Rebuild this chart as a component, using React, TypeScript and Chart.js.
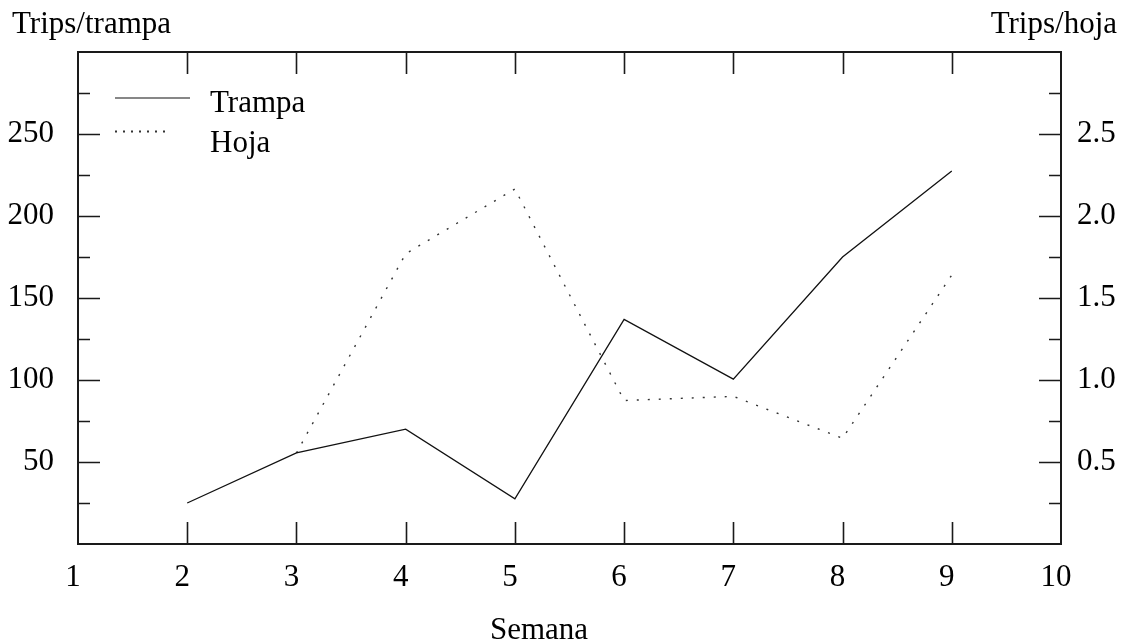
import React, { useEffect, useRef } from "react";
import { Chart, registerables } from "chart.js";

Chart.register(...registerables);

const weeksTrampa = [2, 3, 4, 5, 6, 7, 8, 9];
const trampaValues = [25, 55.5, 70, 27.5, 137, 100.5, 175, 227.5];
const weeksHoja = [3, 4, 5, 6, 7, 8, 9];
const hojaValues = [0.555, 1.77, 2.165, 0.875, 0.9, 0.645, 1.64];

const xTitle = "Semana";
const yLeftTitle = "Trips/trampa";
const yRightTitle = "Trips/hoja";
const seriesNames = ["Trampa", "Hoja"];

const FONT = "'Liberation Serif', 'Times New Roman', serif";
const FS = 31;
const INK = "#1a1a1a";

const framePlugin = {
  id: "framePlugin",
  afterDraw(chart: any) {
    const { ctx, chartArea } = chart;
    const { left, right, top, bottom } = chartArea;
    const x = chart.scales.x;
    const y = chart.scales.y;
    const y1 = chart.scales.y1;
    ctx.save();
    ctx.strokeStyle = INK;
    ctx.lineWidth = 2;
    ctx.strokeRect(left, top, right - left, bottom - top);
    ctx.lineWidth = 1.6;
    ctx.beginPath();
    x.ticks.forEach((t: any) => {
      if (t.value <= x.min || t.value >= x.max) return;
      const px = Math.round(x.getPixelForValue(t.value)) + 0.5;
      ctx.moveTo(px, bottom);
      ctx.lineTo(px, bottom - 22);
      ctx.moveTo(px, top);
      ctx.lineTo(px, top + 22);
    });
    y.ticks.forEach((t: any) => {
      if (t.value <= y.min || t.value >= y.max) return;
      const py = Math.round(y.getPixelForValue(t.value)) + 0.5;
      const len = t.value % 50 === 0 ? 22 : 12;
      ctx.moveTo(left, py);
      ctx.lineTo(left + len, py);
    });
    y1.ticks.forEach((t: any) => {
      if (t.value <= y1.min + 1e-9 || t.value >= y1.max - 1e-9) return;
      const py = Math.round(y1.getPixelForValue(t.value)) + 0.5;
      const major = Math.abs(t.value * 2 - Math.round(t.value * 2)) < 1e-6;
      const len = major ? 22 : 12;
      ctx.moveTo(right, py);
      ctx.lineTo(right - len, py);
    });
    ctx.stroke();

    // axis titles
    ctx.fillStyle = "#000";
    ctx.font = `${FS}px ${FONT}`;
    ctx.textBaseline = "alphabetic";
    ctx.textAlign = "left";
    ctx.fillText(yLeftTitle, 12, 33);
    ctx.textAlign = "right";
    ctx.fillText(yRightTitle, 1117, 33);
    ctx.textAlign = "center";
    ctx.fillText(xTitle, 539, 639);

    // legend inside plot
    const ds = chart.data.datasets;
    const rows = [
      { lineY: 98, textY: 112, x0: 115, x1: 190, dash: [] as number[] },
      { lineY: 131.5, textY: 152, x0: 115, x1: 166, dash: [2, 6] },
    ];
    ds.forEach((d: any, i: number) => {
      const r = rows[i];
      ctx.beginPath();
      ctx.strokeStyle = d.borderColor;
      ctx.lineWidth = i === 0 ? 1.2 : 1.8;
      ctx.setLineDash(r.dash);
      ctx.moveTo(r.x0, r.lineY);
      ctx.lineTo(r.x1, r.lineY);
      ctx.stroke();
      ctx.setLineDash([]);
      ctx.fillStyle = "#000";
      ctx.textAlign = "left";
      ctx.fillText(d.label, 210, r.textY);
    });
    ctx.restore();
  },
};

export default function App() {
  const ref = useRef<HTMLCanvasElement>(null);
  useEffect(() => {
    if (!ref.current) return;
    const chart = new Chart(ref.current, {
      type: "line",
      data: {
        datasets: [
          {
            label: seriesNames[0],
            data: weeksTrampa.map((w, i) => ({ x: w, y: trampaValues[i] })),
            borderColor: "#111",
            borderWidth: 1.3,
            pointRadius: 0,
            tension: 0,
            yAxisID: "y",
          },
          {
            label: seriesNames[1],
            data: weeksHoja.map((w, i) => ({ x: w, y: hojaValues[i] })),
            borderColor: "#333",
            borderWidth: 1.4,
            borderDash: [2, 9],
            pointRadius: 0,
            tension: 0,
            yAxisID: "y1",
          },
        ],
      },
      options: {
        animation: false,
        responsive: false,
        maintainAspectRatio: false,
        layout: { padding: { top: 52, left: 0, right: 0, bottom: 0 } },
        plugins: { legend: { display: false }, tooltip: { enabled: false } },
        scales: {
          x: {
            type: "linear",
            min: 1,
            max: 10,
            grid: { display: false, drawTicks: false },
            border: { display: false },
            ticks: {
              stepSize: 1,
              autoSkip: false,
              maxRotation: 0,
              color: "#000",
              font: { family: FONT, size: FS },
              padding: 15,
              labelOffset: -5,
            },
            afterFit: (s: any) => {
              s.height = 100;
            },
          },
          y: {
            type: "linear",
            position: "left",
            min: 0,
            max: 300,
            grid: { display: false, drawTicks: false },
            border: { display: false },
            ticks: {
              stepSize: 25,
              autoSkip: false,
              color: "#000",
              font: { family: FONT, size: FS },
              padding: 24,
              callback: (v: any) =>
                v % 50 === 0 && v > 0 && v < 300 ? String(v) : "",
            },
            afterFit: (s: any) => {
              s.width = 78;
            },
          },
          y1: {
            type: "linear",
            position: "right",
            min: 0,
            max: 3,
            grid: { display: false, drawTicks: false },
            border: { display: false },
            ticks: {
              stepSize: 0.25,
              autoSkip: false,
              color: "#000",
              font: { family: FONT, size: FS },
              padding: 16,
              callback: (v: any) => {
                const major = Math.abs(v * 2 - Math.round(v * 2)) < 1e-6;
                return major && v > 0.01 && v < 2.99 ? Number(v).toFixed(1) : "";
              },
            },
            afterFit: (s: any) => {
              s.width = 65;
            },
          },
        },
      },
      plugins: [framePlugin],
    });
    return () => chart.destroy();
  }, []);
  return (
    <div
      style={{
        position: "fixed",
        left: 0,
        top: 0,
        width: 1126,
        height: 644,
        background: "#fff",
      }}
    >
      <canvas ref={ref} width={1126} height={644} />
    </div>
  );
}
